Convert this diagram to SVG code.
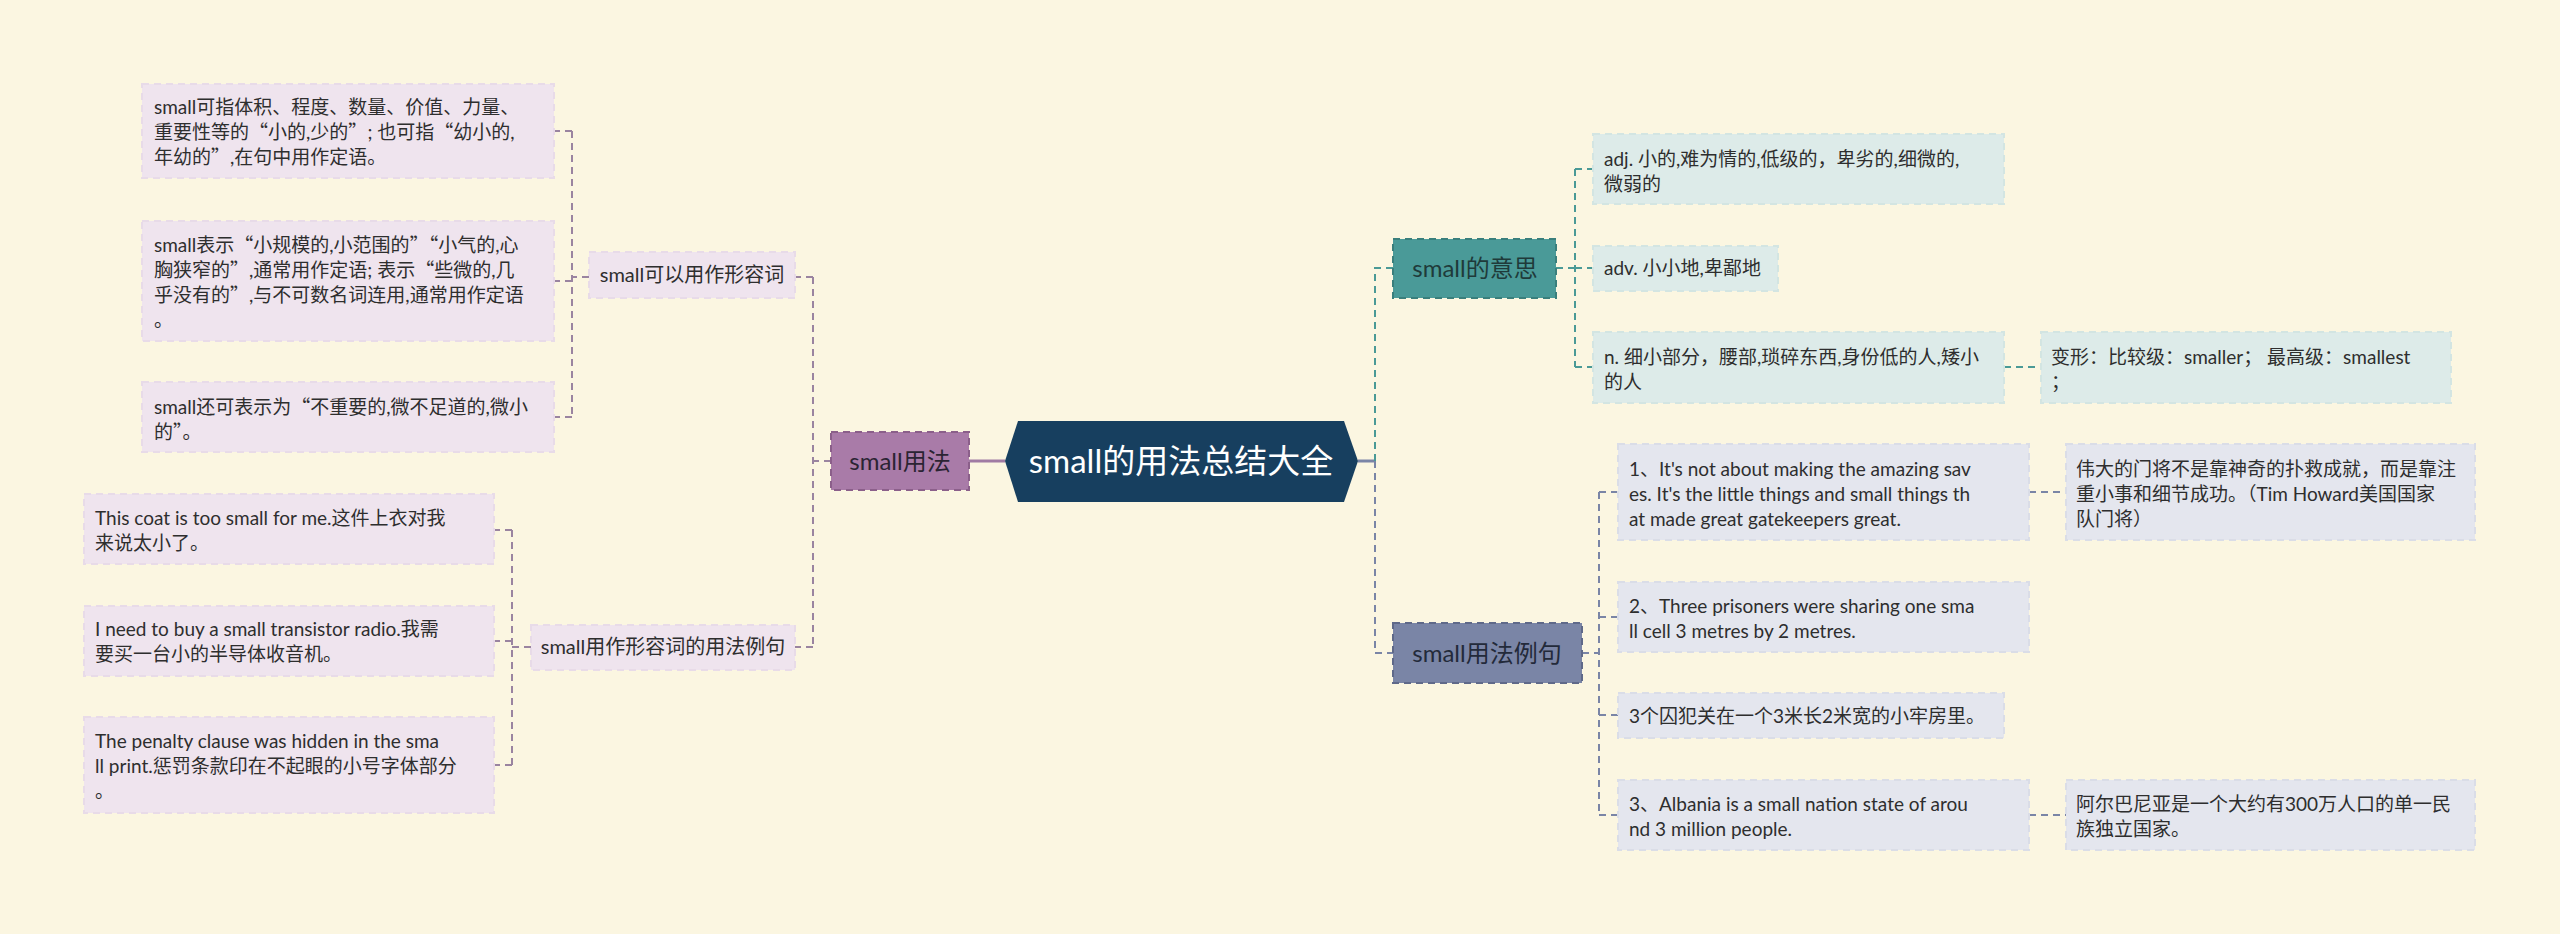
<svg xmlns="http://www.w3.org/2000/svg" width="2560" height="934" viewBox="0 0 2560 934">
<style>
text{font-family:"Lato","Noto Sans CJK SC",sans-serif;}
.q{font-family:"Noto Sans CJK SC",sans-serif;}
.leaf{font-size:19px;fill:#2e2e2e;}
.sub{font-size:20px;fill:#2e2e2e;text-anchor:middle;}
.main{font-size:24px;text-anchor:middle;}
.lp{fill:#efe4ee;stroke:#e8dbe8;stroke-width:2;stroke-dasharray:7 5;}
.lt{fill:#ddebe9;stroke:#d3e5e2;stroke-width:2;stroke-dasharray:7 5;}
.lg{fill:#e4e6ee;stroke:#dadde7;stroke-width:2;stroke-dasharray:7 5;}
.cp{fill:none;stroke:#9a84a0;stroke-width:2;stroke-dasharray:7 5;}
.ct{fill:none;stroke:#4a9a96;stroke-width:2;stroke-dasharray:7 5;}
.cg{fill:none;stroke:#7a85a6;stroke-width:2;stroke-dasharray:7 5;}
</style>
<rect x="0" y="0" width="2560" height="934" fill="#fbf6e1"/>
<g id="connectors">
<path d="M969,461 H1005" stroke="#a07ba3" stroke-width="3" fill="none"/>
<path class="cp" d="M831,461 H813 M813,277 V647 M813,277 H795 M813,647 H795"/>
<path class="cp" d="M589,277 H572 M572,131 V417 M572,131 H554 M572,281 H554 M572,417 H554"/>
<path class="cp" d="M531,647 H512 M512,530 V765 M512,530 H494 M512,641 H494 M512,765 H494"/>
<path d="M1358,461 H1375" stroke="#7a85a6" stroke-width="3" fill="none"/>
<path class="ct" d="M1375,461 V268 H1393"/>
<path class="cg" d="M1375,461 V653 H1393"/>
<path class="ct" d="M1556,268 H1575 M1575,169 V367 M1575,169 H1593 M1575,268 H1593 M1575,367 H1593 M2004,367 H2041"/>
<path class="cg" d="M1582,653 H1599 M1599,492 V815 M1599,492 H1618 M1599,617 H1618 M1599,715 H1618 M1599,815 H1618 M2029,492 H2066 M2029,815 H2066"/>
</g>
<g id="central">
<polygon points="1005,461 1018,421 1344,421 1358,461 1344,502 1018,502" fill="#173f5f"/>
<text x="1181" y="473" style="font-size:33px;fill:#ffffff;text-anchor:middle;">small的用法总结大全</text>
</g>
<g id="n-usage">
<rect x="831" y="432" width="138" height="58" fill="#a97ba8" stroke="#8b5f8a" stroke-width="2" stroke-dasharray="7 5"/>
<text class="main" x="900" y="470" fill="#2b2433">small用法</text>
</g>
<g id="n-adj">
<rect class="lp" x="589" y="252" width="206" height="46"/>
<text class="sub" x="692" y="282">small可以用作形容词</text>
</g>
<g id="n-adj-ex">
<rect class="lp" x="531" y="625" width="264" height="45"/>
<text class="sub" x="663" y="654">small用作形容词的用法例句</text>
</g>
<g id="l1">
<rect class="lp" x="142" y="84" width="412" height="94"/>
<text class="leaf" x="154" y="114">small可指体积、程度、数量、价值、力量、</text>
<text class="leaf" x="154" y="139">重要性等的<tspan class="q">“</tspan>小的,少的<tspan class="q">”</tspan>; 也可指<tspan class="q">“</tspan>幼小的,</text>
<text class="leaf" x="154" y="164">年幼的<tspan class="q">”</tspan>,在句中用作定语。</text>
</g>
<g id="l2">
<rect class="lp" x="142" y="221" width="412" height="120"/>
<text class="leaf" x="154" y="252">small表示<tspan class="q">“</tspan>小规模的,小范围的<tspan class="q">”“</tspan>小气的,心</text>
<text class="leaf" x="154" y="277">胸狭窄的<tspan class="q">”</tspan>,通常用作定语; 表示<tspan class="q">“</tspan>些微的,几</text>
<text class="leaf" x="154" y="302">乎没有的<tspan class="q">”</tspan>,与不可数名词连用,通常用作定语</text>
<text class="leaf" x="154" y="327">。</text>
</g>
<g id="l3">
<rect class="lp" x="142" y="382" width="412" height="70"/>
<text class="leaf" x="154" y="414">small还可表示为<tspan class="q">“</tspan>不重要的,微不足道的,微小</text>
<text class="leaf" x="154" y="439">的<tspan class="q">”</tspan>。</text>
</g>
<g id="la">
<rect class="lp" x="84" y="494" width="410" height="70"/>
<text class="leaf" x="95" y="525">This coat is too small for me.这件上衣对我</text>
<text class="leaf" x="95" y="550">来说太小了。</text>
</g>
<g id="lb">
<rect class="lp" x="84" y="606" width="410" height="70"/>
<text class="leaf" x="95" y="636">I need to buy a small transistor radio.我需</text>
<text class="leaf" x="95" y="661">要买一台小的半导体收音机。</text>
</g>
<g id="lc">
<rect class="lp" x="84" y="717" width="410" height="96"/>
<text class="leaf" x="95" y="748">The penalty clause was hidden in the sma</text>
<text class="leaf" x="95" y="773">ll print.惩罚条款印在不起眼的小号字体部分</text>
<text class="leaf" x="95" y="798">。</text>
</g>
<g id="n-meaning">
<rect x="1393" y="239" width="163" height="59" fill="#4a9a98" stroke="#3a7f7c" stroke-width="2" stroke-dasharray="7 5"/>
<text class="main" x="1475" y="277" fill="#1f3a3a">small的意思</text>
</g>
<g id="r1">
<rect class="lt" x="1593" y="134" width="411" height="70"/>
<text class="leaf" x="1604" y="166">adj. 小的,难为情的,低级的，卑劣的,细微的,</text>
<text class="leaf" x="1604" y="191">微弱的</text>
</g>
<g id="r2">
<rect class="lt" x="1593" y="246" width="185" height="45"/>
<text class="leaf" x="1604" y="275">adv. 小小地,卑鄙地</text>
</g>
<g id="r3">
<rect class="lt" x="1593" y="332" width="411" height="71"/>
<text class="leaf" x="1604" y="364">n. 细小部分，腰部,琐碎东西,身份低的人,矮小</text>
<text class="leaf" x="1604" y="389">的人</text>
</g>
<g id="r4">
<rect class="lt" x="2041" y="332" width="410" height="71"/>
<text class="leaf" x="2051" y="364">变形：比较级：smaller； 最高级：smallest</text>
<text class="leaf" x="2051" y="389">；</text>
</g>
<g id="n-examples">
<rect x="1393" y="623" width="189" height="60" fill="#7a85a6" stroke="#5f6989" stroke-width="2" stroke-dasharray="7 5"/>
<text class="main" x="1487" y="662" fill="#232a3a">small用法例句</text>
</g>
<g id="e1">
<rect class="lg" x="1618" y="444" width="411" height="96"/>
<text class="leaf" x="1629" y="476">1、It's not about making the amazing sav</text>
<text class="leaf" x="1629" y="501">es. It's the little things and small things th</text>
<text class="leaf" x="1629" y="526">at made great gatekeepers great.</text>
</g>
<g id="e1c">
<rect class="lg" x="2066" y="444" width="409" height="96"/>
<text class="leaf" x="2076" y="476">伟大的门将不是靠神奇的扑救成就，而是靠注</text>
<text class="leaf" x="2076" y="501">重小事和细节成功。（Tim Howard美国国家</text>
<text class="leaf" x="2076" y="526">队门将）</text>
</g>
<g id="e2">
<rect class="lg" x="1618" y="582" width="411" height="70"/>
<text class="leaf" x="1629" y="613">2、Three prisoners were sharing one sma</text>
<text class="leaf" x="1629" y="638">ll cell 3 metres by 2 metres.</text>
</g>
<g id="e3">
<rect class="lg" x="1618" y="693" width="386" height="45"/>
<text class="leaf" x="1629" y="723">3个囚犯关在一个3米长2米宽的小牢房里。</text>
</g>
<g id="e4">
<rect class="lg" x="1618" y="780" width="411" height="70"/>
<text class="leaf" x="1629" y="811">3、Albania is a small nation state of arou</text>
<text class="leaf" x="1629" y="836">nd 3 million people.</text>
</g>
<g id="e4c">
<rect class="lg" x="2066" y="780" width="409" height="70"/>
<text class="leaf" x="2076" y="811">阿尔巴尼亚是一个大约有300万人口的单一民</text>
<text class="leaf" x="2076" y="836">族独立国家。</text>
</g>
</svg>
